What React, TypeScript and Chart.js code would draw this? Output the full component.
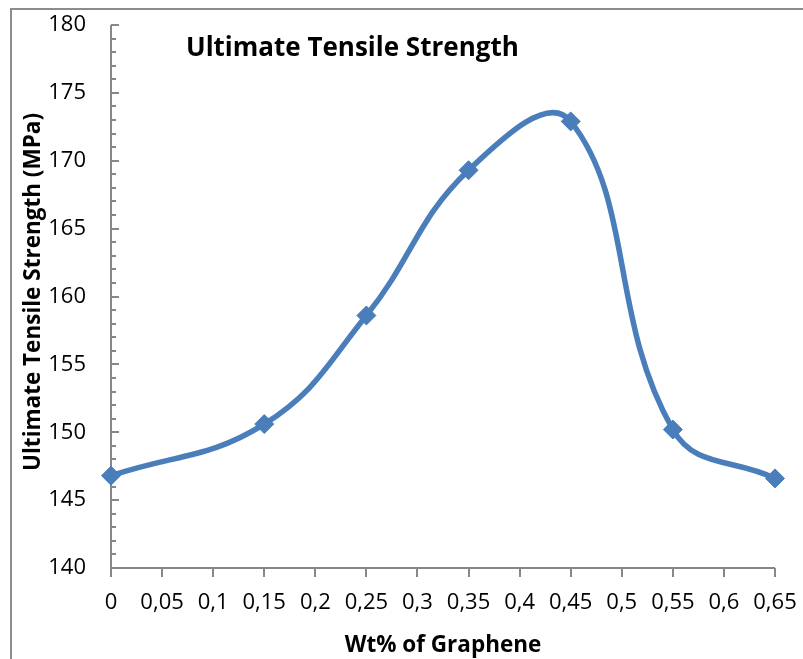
import React, { useEffect, useRef } from "react";
import { Chart, registerables } from "chart.js";

Chart.register(...registerables);

const wtPercent = [0, 0.15, 0.25, 0.35, 0.45, 0.55, 0.65];
const tensileStrength = [146.8, 150.6, 158.6, 169.3, 172.9, 150.2, 146.6];
const xTickValues = [0, 0.05, 0.1, 0.15, 0.2, 0.25, 0.3, 0.35, 0.4, 0.45, 0.5, 0.55, 0.6, 0.65];
const yMin = 140;
const yMax = 180;
const yMajorStep = 5;
const yMinorStep = 1;

const chartTitle = "Ultimate Tensile Strength";
const xAxisTitle = "Wt% of Graphene";
const yAxisTitle = "Ultimate Tensile Strength (MPa)";

const FONT = "'Open Sans', 'Noto Sans', sans-serif";
const AXIS_COLOR = "#878787";
const LINE_COLOR = "#4A7EBB";

const decorations = {
  id: "decorations",
  beforeDraw(chart: any) {
    const ctx = chart.ctx;
    ctx.save();
    ctx.fillStyle = "#ffffff";
    ctx.fillRect(0, 0, chart.width, chart.height);
    ctx.strokeStyle = "#8c8c8c";
    ctx.lineWidth = 2;
    ctx.beginPath();
    ctx.moveTo(11, chart.height);
    ctx.lineTo(11, 9);
    ctx.lineTo(chart.width, 9);
    ctx.stroke();
    ctx.restore();
  },
  beforeDatasetsDraw(chart: any) {
    const ctx = chart.ctx;
    const { left, right, top, bottom } = chart.chartArea;
    const xs = chart.scales.x;
    const ys = chart.scales.y;
    ctx.save();
    ctx.strokeStyle = AXIS_COLOR;
    ctx.lineWidth = 2;
    ctx.beginPath();
    ctx.moveTo(left, top);
    ctx.lineTo(left, bottom);
    ctx.lineTo(right, bottom);
    ctx.stroke();
    ctx.beginPath();
    for (let v = yMin; v <= yMax; v += yMinorStep) {
      const y = Math.round(ys.getPixelForValue(v));
      const len = v % yMajorStep === 0 ? 8 : 5;
      ctx.moveTo(left, y);
      ctx.lineTo(left + len, y);
    }
    ctx.stroke();
    ctx.beginPath();
    for (const v of xTickValues) {
      const x = Math.round(xs.getPixelForValue(v));
      ctx.moveTo(x, bottom);
      ctx.lineTo(x, bottom + 9);
    }
    ctx.stroke();
    ctx.restore();
  },
  afterDraw(chart: any) {
    const ctx = chart.ctx;
    ctx.save();
    ctx.fillStyle = "#000000";
    ctx.textBaseline = "alphabetic";
    ctx.font = `bold 26px ${FONT}`;
    ctx.textAlign = "left";
    ctx.fillText(chartTitle, 186, 56);

    ctx.font = `bold 22.5px ${FONT}`;
    ctx.textAlign = "center";
    ctx.fillText(xAxisTitle, 443, 652);

    ctx.translate(40, 292);
    ctx.rotate(-Math.PI / 2);
    ctx.font = `bold 22.5px ${FONT}`;
    ctx.textAlign = "center";
    ctx.fillText(yAxisTitle, 0, 0);
    ctx.restore();
  },
};

const zeroPadding = (scale: any) => {
  scale.paddingTop = 0;
  scale.paddingBottom = 0;
  scale.paddingLeft = 0;
  scale.paddingRight = 0;
};

export default function App() {
  const ref = useRef<HTMLCanvasElement>(null);
  useEffect(() => {
    const chart = new Chart(ref.current as HTMLCanvasElement, {
      type: "line",
      data: {
        datasets: [
          {
            label: chartTitle,
            data: wtPercent.map((x, i) => ({ x, y: tensileStrength[i] })),
            borderColor: LINE_COLOR,
            backgroundColor: LINE_COLOR,
            borderWidth: 5.5,
            pointStyle: "rectRot",
            pointRadius: 9.5,
            pointBorderWidth: 1,
            pointBackgroundColor: LINE_COLOR,
            pointBorderColor: LINE_COLOR,
            tension: 0.42,
            clip: false,
          } as any,
        ],
      },
      options: {
        animation: false,
        responsive: false,
        devicePixelRatio: 1,
        layout: { padding: { left: 0, right: 28, top: 25, bottom: 0 } },
        plugins: {
          legend: { display: false },
          title: { display: false },
          tooltip: { enabled: false },
        },
        scales: {
          x: {
            type: "linear",
            min: 0,
            max: 0.65,
            grid: { display: false, drawTicks: false },
            border: { display: false },
            afterBuildTicks: (scale: any) => {
              scale.ticks = xTickValues.map((v) => ({ value: v }));
            },
            afterFit: (scale: any) => {
              scale.height = 91;
              zeroPadding(scale);
            },
            ticks: {
              autoSkip: false,
              maxRotation: 0,
              minRotation: 0,
              padding: 22,
              color: "#000000",
              font: { family: FONT, size: 22 },
              callback: (v: any) => String(Math.round(Number(v) * 100) / 100).replace(".", ","),
            },
          },
          y: {
            type: "linear",
            min: yMin,
            max: yMax,
            grid: { display: false, drawTicks: false },
            border: { display: false },
            afterFit: (scale: any) => {
              scale.width = 111;
              zeroPadding(scale);
            },
            ticks: {
              stepSize: yMajorStep,
              padding: 25,
              color: "#000000",
              font: { family: FONT, size: 22 },
            },
          },
        },
      },
      plugins: [decorations],
    });
    return () => chart.destroy();
  }, []);
  return (
    <div style={{ position: "absolute", left: 0, top: 0, width: 803, height: 659 }}>
      <canvas ref={ref} width={803} height={659} style={{ display: "block", width: 803, height: 659 }} />
    </div>
  );
}
